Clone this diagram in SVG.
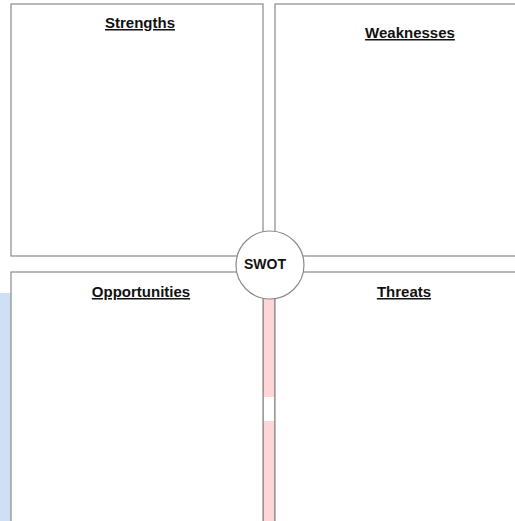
<svg xmlns="http://www.w3.org/2000/svg" width="515" height="521" viewBox="0 0 515 521">
<style>
.box{fill:#ffffff;stroke:#8a8a8a;stroke-width:1.2}
.title{font-family:"Liberation Sans",Arial,sans-serif;font-weight:bold;font-size:15px;fill:#111;text-anchor:middle;text-decoration:underline}
.swot{font-family:"Liberation Sans",Arial,sans-serif;font-weight:bold;font-size:14px;fill:#111;text-anchor:middle}
</style>
<rect width="515" height="521" fill="#ffffff"/>
<rect x="0" y="293" width="11" height="228" fill="#cfe0f5"/>
<g id="connectors">
<rect x="263" y="298" width="12" height="99" fill="#ffd6d8"/>
<rect x="263" y="421" width="12" height="100" fill="#ffd6d8"/>
<line x1="263" y1="298" x2="263" y2="521" stroke="#8a8a8a" stroke-width="1.2"/>
<line x1="275" y1="298" x2="275" y2="521" stroke="#8a8a8a" stroke-width="1.2"/>
</g>
<g id="strengths">
<rect class="box" x="11" y="4" width="252" height="252"/>
<text class="title" x="140" y="28">Strengths</text>
</g>
<g id="weaknesses">
<rect class="box" x="275" y="4" width="250" height="252"/>
<text class="title" x="410" y="38">Weaknesses</text>
</g>
<g id="opportunities">
<rect class="box" x="11" y="272" width="252" height="260"/>
<text class="title" x="141" y="297">Opportunities</text>
</g>
<g id="threats">
<rect class="box" x="275" y="272" width="250" height="260"/>
<text class="title" x="404" y="297">Threats</text>
</g>
<g id="swot">
<circle cx="270" cy="265" r="34" fill="#ffffff" stroke="#8a8a8a" stroke-width="1.2"/>
<text class="swot" x="265" y="269">SWOT</text>
</g>
</svg>
